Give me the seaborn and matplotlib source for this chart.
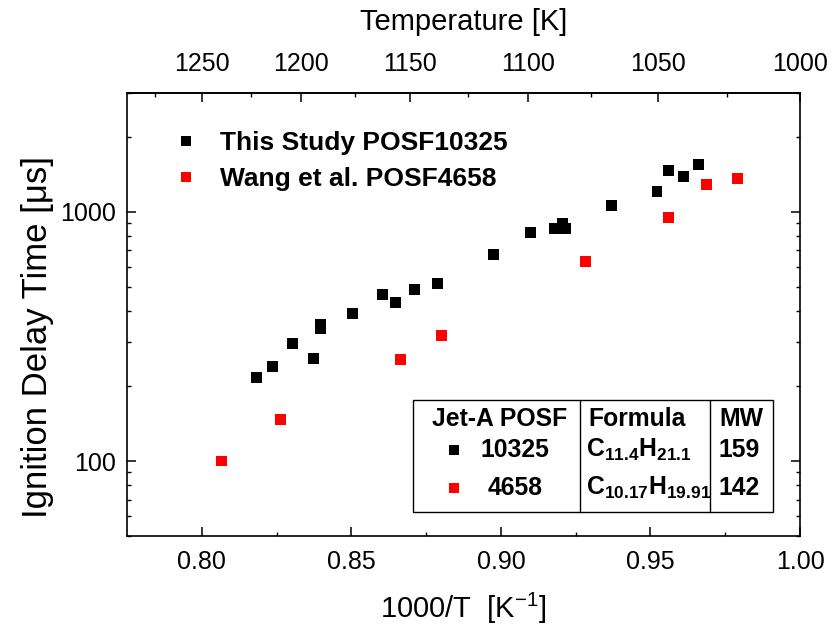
import numpy as np
import pandas as pd
import matplotlib
matplotlib.use("Agg")
import matplotlib.pyplot as plt
import seaborn as sns
from matplotlib.ticker import FixedLocator, NullFormatter, LogLocator
from matplotlib.lines import Line2D
from matplotlib.patches import Rectangle

# ---------------- data ----------------
x_this = [0.8182, 0.8236, 0.8304, 0.8374, 0.8396, 0.8396, 0.8503, 0.8605, 0.8648,
          0.8710, 0.8787, 0.8976, 0.9098, 0.9180, 0.9206, 0.9215, 0.9370, 0.9522,
          0.9559, 0.9612, 0.9660]
tau_this = [217, 240, 297, 257, 352, 339, 390, 466, 432, 488, 518, 677, 829, 860,
            898, 860, 1061, 1211, 1460, 1391, 1543]
x_wang = [0.8066, 0.8264, 0.8664, 0.8800, 0.9283, 0.9559, 0.9687, 0.9791]
tau_wang = [100, 147, 256, 318, 630, 946, 1283, 1365]

series_labels = ["This Study POSF10325", "Wang et al. POSF4658"]
series_colors = ["#000000", "#ff0000"]

x_ticks = [0.80, 0.85, 0.90, 0.95, 1.00]
temp_ticks = [1250, 1200, 1150, 1100, 1050, 1000]

table_header = ["Jet-A POSF", "Formula", "MW"]
table_posf = ["10325", "4658"]
table_formula = [r"C$_{\mathbf{11.4}}$H$_{\mathbf{21.1}}$",
                 r"C$_{\mathbf{10.17}}$H$_{\mathbf{19.91}}$"]
table_mw = ["159", "142"]

# ---------------- style ----------------
sns.set_theme(style="ticks")
plt.rcParams["font.family"] = ["Liberation Sans", "DejaVu Sans"]
plt.rcParams["mathtext.fontset"] = "custom"
plt.rcParams["mathtext.rm"] = "Liberation Sans"
plt.rcParams["mathtext.bf"] = "Liberation Sans:bold"
plt.rcParams["mathtext.it"] = "Liberation Sans:italic"
plt.rcParams["text.color"] = "black"
plt.rcParams["axes.labelcolor"] = "black"
plt.rcParams["xtick.color"] = "black"
plt.rcParams["ytick.color"] = "black"
plt.rcParams["axes.edgecolor"] = "black"

df = pd.DataFrame({
    "x": x_this + x_wang,
    "tau": tau_this + tau_wang,
    "series": [series_labels[0]] * len(x_this) + [series_labels[1]] * len(x_wang),
})

fig = plt.figure(figsize=(8.32, 6.3), dpi=100)
ax = fig.add_axes([127 / 832, 1 - 536 / 630, (800 - 127) / 832, (536 - 93) / 630])

sns.scatterplot(data=df, x="x", y="tau", hue="series", palette=series_colors,
                marker="s", s=62, linewidth=0, ax=ax, legend=False, zorder=3)

ax.set_yscale("log")
ax.set_xlim(0.775, 1.00)
ax.set_ylim(50, 3000)

ax.xaxis.set_major_locator(FixedLocator(x_ticks))
ax.xaxis.set_minor_locator(FixedLocator([0.825, 0.875, 0.925, 0.975]))
ax.set_xticklabels([f"{v:.2f}" for v in x_ticks])
ax.yaxis.set_major_locator(FixedLocator([100, 1000]))
ax.yaxis.set_minor_locator(LogLocator(base=10, subs=np.arange(2, 10)))
ax.yaxis.set_minor_formatter(NullFormatter())
ax.set_yticklabels(["100", "1000"])

for sp in ax.spines.values():
    sp.set_visible(True)
    sp.set_linewidth(1.2)
    sp.set_color("black")

ax.tick_params(axis="both", which="major", direction="in", length=6.5, width=1.1,
               labelsize=18, colors="black", pad=8)
ax.tick_params(axis="x", which="major", pad=10)
ax.tick_params(axis="both", which="minor", direction="in", length=3.2, width=1.0,
               colors="black")
ax.tick_params(axis="y", which="both", right=True)
ax.tick_params(axis="x", which="both", top=False)

ax.set_xlabel(r"1000/T  [K$^{\mathregular{-1}}$]", fontsize=21, labelpad=12)
ax.set_ylabel("Ignition Delay Time [\u03bcs]", fontsize=25)
ax.yaxis.set_label_coords(-0.108, 0.45)

# top temperature axis
sec = ax.secondary_xaxis("top", functions=(lambda x: 1000.0 / x, lambda T: 1000.0 / T))
sec.xaxis.set_major_locator(FixedLocator(temp_ticks))
sec.xaxis.set_minor_locator(FixedLocator([1275, 1225, 1175, 1125, 1075, 1025]))
sec.set_xticklabels([str(t) for t in temp_ticks])
sec.tick_params(axis="x", which="major", direction="in", length=6.5, width=1.1,
                labelsize=18, pad=12, colors="black")
sec.tick_params(axis="x", which="minor", direction="in", length=3.2, width=1.0)
sec.set_xlabel("Temperature [K]", fontsize=21, labelpad=16)

# legend
handles = [Line2D([], [], linestyle="none", marker="s", markersize=7.8,
                  markeredgewidth=0, color=c) for c in series_colors]
leg = ax.legend(handles, series_labels, loc="upper left",
                bbox_to_anchor=(0.04, 0.955), frameon=False,
                prop={"weight": "bold", "size": 19}, handletextpad=0.8,
                labelspacing=0.45, handlelength=1.0, borderaxespad=0.3)

# table
tl, tr, tt, tb = 0.425, 0.960, 0.307, 0.054
ax.add_patch(Rectangle((tl, tb), tr - tl, tt - tb, transform=ax.transAxes,
                       fill=False, edgecolor="black", linewidth=1.0, zorder=4))
for xd in (0.673, 0.866):
    ax.plot([xd, xd], [tb, tt], transform=ax.transAxes, color="black",
            linewidth=1.0, zorder=4)

fs = 17.8
ax.text(0.553, 0.264, table_header[0], transform=ax.transAxes, ha="center",
        va="center", fontsize=fs, fontweight="bold")
ax.text(0.685, 0.264, table_header[1], transform=ax.transAxes, ha="left",
        va="center", fontsize=fs, fontweight="bold")
ax.text(0.913, 0.264, table_header[2], transform=ax.transAxes, ha="center",
        va="center", fontsize=fs, fontweight="bold")
row_y = [0.194, 0.108]
for i in range(2):
    ax.plot([0.486], [row_y[i]], transform=ax.transAxes, marker="s",
            markersize=6.5, markeredgewidth=0, color=series_colors[i], linestyle="none")
    ax.text(0.577, row_y[i], table_posf[i], transform=ax.transAxes, ha="center",
            va="center", fontsize=fs, fontweight="bold")
    ax.text(0.682, row_y[i], table_formula[i], transform=ax.transAxes, ha="left",
            va="center", fontsize=fs, fontweight="bold")
    ax.text(0.910, row_y[i], table_mw[i], transform=ax.transAxes, ha="center",
            va="center", fontsize=fs, fontweight="bold")

fig.savefig("out.png", dpi=100)
